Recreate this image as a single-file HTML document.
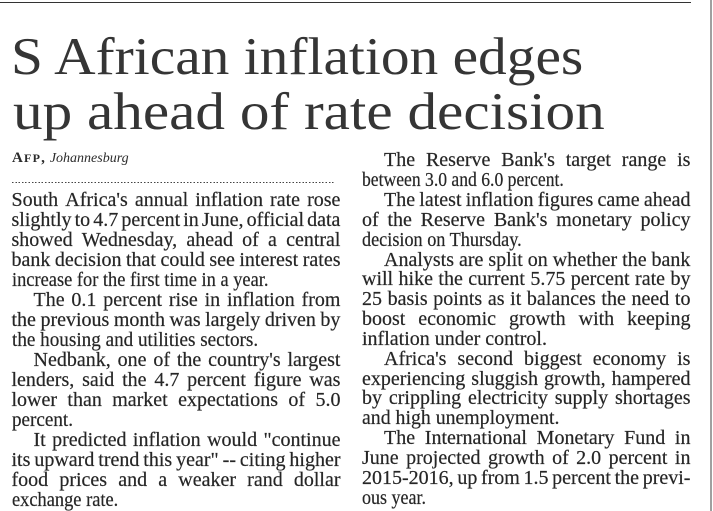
<!DOCTYPE html>
<html>
<head>
<meta charset="utf-8">
<style>
  html,body{margin:0;padding:0;background:#fff;}
  body{width:713px;height:511px;position:relative;overflow:hidden;}
  .rule{position:absolute;left:0;top:1.5px;width:691px;height:1.6px;background:#333;}
  .bar{position:absolute;left:709.5px;top:0;width:2.5px;height:511px;background:#a0a0a0;}
  .h{position:absolute;font-family:"Liberation Serif",serif;font-size:53px;line-height:55px;color:#353535;white-space:nowrap;transform-origin:0 0;}
  .by{position:absolute;left:12px;top:149.2px;font-family:"Liberation Serif",serif;font-size:15px;line-height:18px;color:#2b2b2b;white-space:nowrap;}
  .dots{position:absolute;left:12px;top:181.5px;width:322px;height:1.6px;background:repeating-linear-gradient(to right,#444 0 1.5px,transparent 1.5px 3.3px);}
  .col{position:absolute;font-family:"Liberation Serif",serif;font-size:20px;color:#262626;-webkit-text-stroke:0.2px #262626;}
  .col div{white-space:nowrap;}
  .lc div{height:20px;line-height:20px;}
  .rc div{height:19.85px;line-height:19.85px;}
  .j{display:flex;justify-content:space-between;}
  .in{padding-left:22px;}
  .l span{display:inline-block;transform-origin:0 0;}
</style>
</head>
<body>
<div class="rule"></div>
<div class="bar"></div>

<div class="h" style="left:10.5px;top:29.6px;transform:scaleX(1.083);">S African inflation edges</div>
<div class="h" style="left:13px;top:84.6px;transform:scaleX(1.117);">up ahead of rate decision</div>

<div class="by"><span style="font-weight:bold;letter-spacing:1.2px;">A<span style="font-size:12px;">FP</span>,</span> <span style="font-style:italic;font-size:14px;">Johannesburg</span></div>
<div class="dots"></div>

<div class="col lc" style="left:11.5px;top:189.8px;width:329px;">
  <div class="j"><span>South</span><span>Africa's</span><span>annual</span><span>inflation</span><span>rate</span><span>rose</span></div>
  <div class="j"><span>slightly</span><span>to</span><span>4.7</span><span>percent</span><span>in</span><span>June,</span><span>official</span><span>data</span></div>
  <div class="j"><span>showed</span><span>Wednesday,</span><span>ahead</span><span>of</span><span>a</span><span>central</span></div>
  <div class="j"><span>bank</span><span>decision</span><span>that</span><span>could</span><span>see</span><span>interest</span><span>rates</span></div>
  <div class="l"><span style="transform:scaleX(.92)">increase for the first time in a year.</span></div>
  <div class="j in"><span>The</span><span>0.1</span><span>percent</span><span>rise</span><span>in</span><span>inflation</span><span>from</span></div>
  <div class="j"><span>the</span><span>previous</span><span>month</span><span>was</span><span>largely</span><span>driven</span><span>by</span></div>
  <div class="l"><span style="transform:scaleX(.957)">the housing and utilities sectors.</span></div>
  <div class="j in"><span>Nedbank,</span><span>one</span><span>of</span><span>the</span><span>country's</span><span>largest</span></div>
  <div class="j"><span>lenders,</span><span>said</span><span>the</span><span>4.7</span><span>percent</span><span>figure</span><span>was</span></div>
  <div class="j"><span>lower</span><span>than</span><span>market</span><span>expectations</span><span>of</span><span>5.0</span></div>
  <div class="l"><span style="transform:scaleX(.955)">percent.</span></div>
  <div class="j in"><span>It</span><span>predicted</span><span>inflation</span><span>would</span><span>"continue</span></div>
  <div class="j"><span>its</span><span>upward</span><span>trend</span><span>this</span><span>year"</span><span>--</span><span>citing</span><span>higher</span></div>
  <div class="j"><span>food</span><span>prices</span><span>and</span><span>a</span><span>weaker</span><span>rand</span><span>dollar</span></div>
  <div class="l"><span style="transform:scaleX(.92)">exchange rate.</span></div>
</div>

<div class="col rc" style="left:362px;top:151.3px;width:328.5px;">
  <div class="j in"><span>The</span><span>Reserve</span><span>Bank's</span><span>target</span><span>range</span><span>is</span></div>
  <div class="l"><span style="transform:scaleX(.88)">between 3.0 and 6.0 percent.</span></div>
  <div class="j in"><span>The</span><span>latest</span><span>inflation</span><span>figures</span><span>came</span><span>ahead</span></div>
  <div class="j"><span>of</span><span>the</span><span>Reserve</span><span>Bank's</span><span>monetary</span><span>policy</span></div>
  <div class="l"><span style="transform:scaleX(.91)">decision on Thursday.</span></div>
  <div class="j in"><span>Analysts</span><span>are</span><span>split</span><span>on</span><span>whether</span><span>the</span><span>bank</span></div>
  <div class="j"><span>will</span><span>hike</span><span>the</span><span>current</span><span>5.75</span><span>percent</span><span>rate</span><span>by</span></div>
  <div class="j"><span>25</span><span>basis</span><span>points</span><span>as</span><span>it</span><span>balances</span><span>the</span><span>need</span><span>to</span></div>
  <div class="j"><span>boost</span><span>economic</span><span>growth</span><span>with</span><span>keeping</span></div>
  <div class="l"><span style="transform:scaleX(1.0)">inflation under control.</span></div>
  <div class="j in"><span>Africa's</span><span>second</span><span>biggest</span><span>economy</span><span>is</span></div>
  <div class="j"><span>experiencing</span><span>sluggish</span><span>growth,</span><span>hampered</span></div>
  <div class="j"><span>by</span><span>crippling</span><span>electricity</span><span>supply</span><span>shortages</span></div>
  <div class="l"><span style="transform:scaleX(.99)">and high unemployment.</span></div>
  <div class="j in"><span>The</span><span>International</span><span>Monetary</span><span>Fund</span><span>in</span></div>
  <div class="j"><span>June</span><span>projected</span><span>growth</span><span>of</span><span>2.0</span><span>percent</span><span>in</span></div>
  <div class="j"><span>2015-2016,</span><span>up</span><span>from</span><span>1.5</span><span>percent</span><span>the</span><span>previ-</span></div>
  <div class="l"><span style="transform:scaleX(.9)">ous year.</span></div>
</div>
</body>
</html>
